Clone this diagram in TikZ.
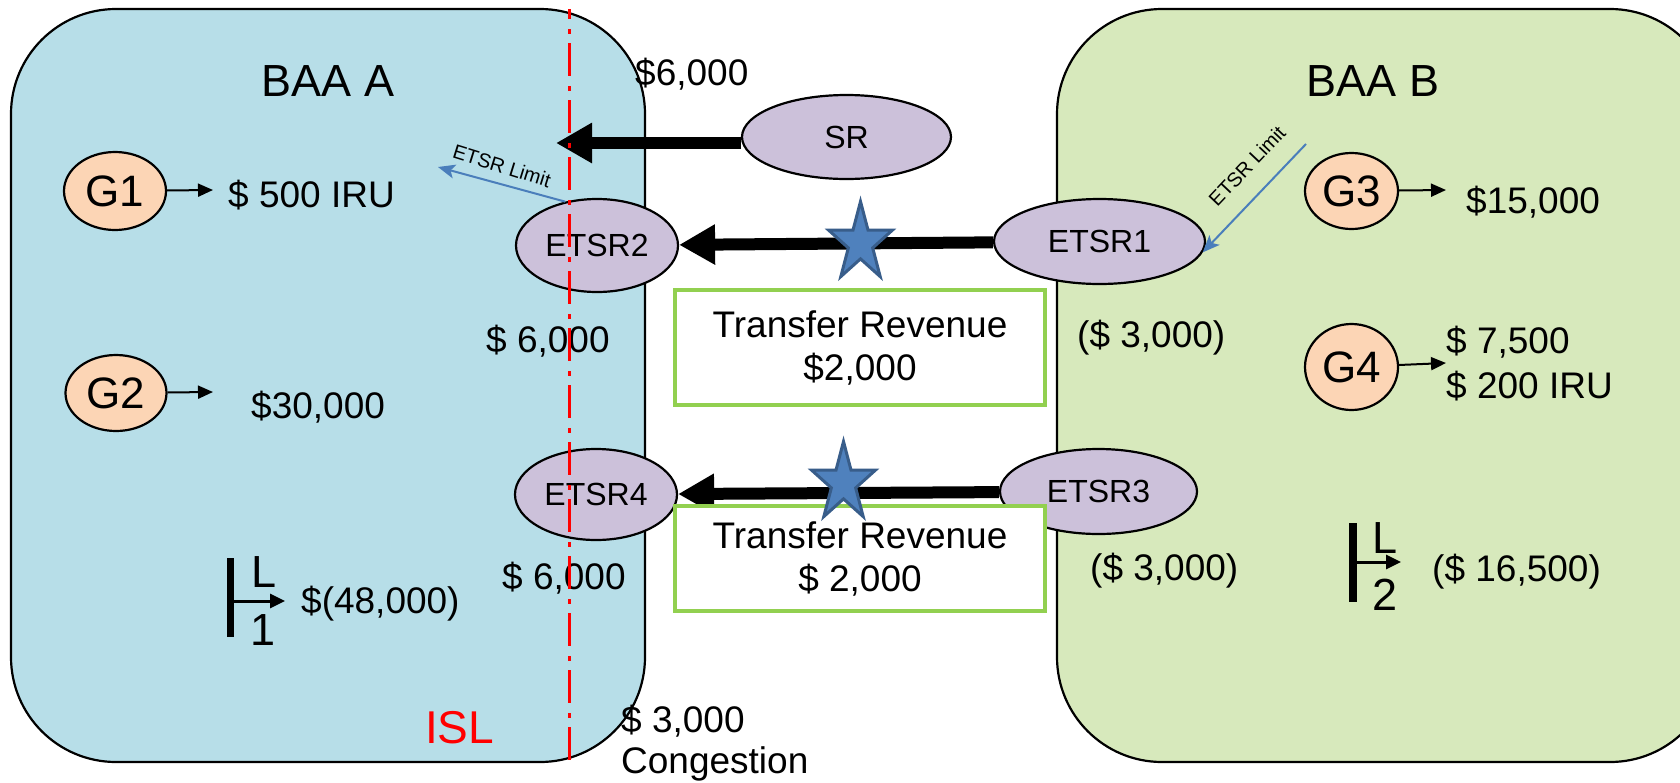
\documentclass[tikz,border=0pt]{standalone}
\usepackage{fontspec}
\setmainfont{Liberation Sans}
\usetikzlibrary{arrows.meta,shapes.geometric}
\definecolor{baaA}{HTML}{B7DEE8}
\definecolor{baaB}{HTML}{D7E9BC}
\definecolor{etsrfill}{HTML}{CCC1DA}
\definecolor{genfill}{HTML}{FCD5B5}
\definecolor{trgreen}{HTML}{92D050}
\definecolor{starfill}{HTML}{4F81BD}
\definecolor{starline}{HTML}{385D8A}
\definecolor{limblue}{HTML}{4A7EBB}
\begin{document}
\begin{tikzpicture}[x=1pt,y=-1pt,
  area/.style={draw=black,line width=2.2pt,rounded corners=105pt},
  etsr/.style={ellipse,draw=black,line width=2.2pt,fill=etsrfill,inner sep=0pt,font=\fontsize{32}{38}\selectfont},
  gen/.style={ellipse,draw=black,line width=2.2pt,fill=genfill,inner sep=0pt,font=\fontsize{44}{52}\selectfont},
  lbl/.style={inner sep=0pt,font=\fontsize{37}{43}\selectfont},
  biglbl/.style={inner sep=0pt,font=\fontsize{45}{54}\selectfont},
  limlbl/.style={inner sep=0pt,font=\fontsize{20}{24}\selectfont},
  bigarrow/.style={draw=black,line width=12pt,-{Triangle[length=36pt,width=38pt]}},
  smallarrow/.style={draw=black,line width=2pt,-{Triangle[length=15pt,width=13pt]}},
  larrow/.style={draw=black,line width=3pt,-{Triangle[length=15pt,width=14pt]}},
  limarrow/.style={draw=limblue,line width=2pt,-{Stealth[length=17pt,width=14pt,inset=4pt]}},
  trbox/.style={rectangle,draw=trgreen,line width=4pt,fill=white,inner sep=0pt,align=center,font=\fontsize{37}{43}\selectfont},
  starsty/.style={fill=starfill,draw=starline,line width=3pt},
  isl/.style={draw=red,line width=3pt,dash pattern=on 33pt off 10pt on 5pt off 9pt,dash phase=23pt}
]
\useasboundingbox (0,0) rectangle (1680,782);
\fill[white] (0,0) rectangle (1680,782);

% areas
\draw[area,fill=baaA] (11,9) rectangle (645,762);
\draw[area,fill=baaB] (1057,9) rectangle (1715,762);

% titles
\node[biglbl,anchor=base] (baaAt) at (328,96) {BAA A};
\node[biglbl,anchor=base] (baaBt) at (1373,96) {BAA B};

% ellipses
\node[etsr,minimum width=209pt,minimum height=84pt] (SR) at (846.5,137) {SR};
\node[etsr,minimum width=211pt,minimum height=85pt] (ETSR1) at (1099.5,241.5) {ETSR1};
\node[etsr,minimum width=162pt,minimum height=93pt] (ETSR2) at (597,245.5) {ETSR2};
\node[etsr,minimum width=197pt,minimum height=85pt] (ETSR3) at (1098.5,491.5) {ETSR3};
\node[etsr,minimum width=162pt,minimum height=91pt] (ETSR4) at (596,494.5) {ETSR4};

\node[gen,minimum width=102pt,minimum height=78pt] (G1) at (115,191) {G1};
\node[gen,minimum width=101pt,minimum height=76pt] (G2) at (116,393) {G2};
\node[gen,minimum width=93pt,minimum height=76pt] (G3) at (1351.5,191) {G3};
\node[gen,minimum width=93pt,minimum height=86pt] (G4) at (1351.5,367) {G4};

% big arrows
\coordinate (srtip) at (556,143);
\draw[bigarrow] ([yshift=-6pt]SR.west) -- (srtip);
\draw[bigarrow] (ETSR1) -- (ETSR2);
\draw[bigarrow] (ETSR3) -- (ETSR4);

% transfer revenue boxes
\node[trbox,minimum width=370pt,minimum height=115pt] (TR1) at (860,347.5) {Transfer Revenue\\\$2,000};
\node[trbox,minimum width=370pt,minimum height=105pt] (TR2) at (860,558.5) {Transfer Revenue\\\$ 2,000};

% stars
\begin{scope}[shift={(860.5,243)},x=33.5pt,y=41.5pt]
\draw[starsty] (90:1) -- (126:0.382) -- (162:1) -- (198:0.382) -- (234:1) -- (270:0.382) -- (306:1) -- (342:0.382) -- (18:1) -- (54:0.382) -- cycle;
\end{scope}
\begin{scope}[shift={(843.5,483)},x=33.5pt,y=41.5pt]
\draw[starsty] (90:1) -- (126:0.382) -- (162:1) -- (198:0.382) -- (234:1) -- (270:0.382) -- (306:1) -- (342:0.382) -- (18:1) -- (54:0.382) -- cycle;
\end{scope}

% generator arrows and values
\coordinate (g1tip) at (213,190);
\coordinate (g2tip) at (213,392);
\coordinate (g3tip) at (1446,190);
\coordinate (g4tip) at (1446,363);
\draw[smallarrow] (G1) -- (g1tip);
\draw[smallarrow] (G2) -- (g2tip);
\draw[smallarrow] (G3) -- (g3tip);
\draw[smallarrow] (G4) -- (g4tip);
\node[lbl,anchor=base west] (tG1) at (228,207) {\$ 500 IRU};
\node[lbl,anchor=base west] (tG2) at (251,418) {\$30,000};
\node[lbl,anchor=base west] (tG3) at (1466,213) {\$15,000};
\node[lbl,anchor=base west] (tG4a) at (1446,353) {\$ 7,500};
\node[lbl,anchor=base west] (tG4b) at (1446,398) {\$ 200 IRU};

% other values
\node[lbl,anchor=base west] (t6000a) at (635,85) {\$6,000};
\node[lbl,anchor=base west] (t6000b) at (486,352) {\$ 6,000};
\node[lbl,anchor=base west] (t6000c) at (502,589) {\$ 6,000};
\node[lbl,anchor=base west] (t3000a) at (1077,347) {(\$ 3,000)};
\node[lbl,anchor=base west] (t3000b) at (1090,580) {(\$ 3,000)};
\node[lbl,anchor=base west] (tcong1) at (621,732) {\$ 3,000};
\node[lbl,anchor=base west] (tcong2) at (621,773) {Congestion};

% load symbols
\draw[line width=7pt] (230.5,558) -- (230.5,637);
\draw[larrow] (233,601) -- (285,601);
\node[biglbl,anchor=base] (L1a) at (264,587) {L};
\node[biglbl,anchor=base] (L1b) at (263,645) {1};
\node[lbl,anchor=base west] (L1v) at (301,613) {\$(48,000)};
\draw[line width=8pt] (1353,523) -- (1353,602);
\draw[larrow] (1356,562) -- (1401,562);
\node[biglbl,anchor=base] (L2a) at (1385,553) {L};
\node[biglbl,anchor=base] (L2b) at (1385,610) {2};
\node[lbl,anchor=base west] (L2v) at (1432,581) {(\$ 16,500)};

% ETSR limit arrows
\coordinate (lim2end) at (438,167);
\draw[limarrow] (ETSR2.126) -- (lim2end);
\node[limlbl,rotate=-17.3] (lim2lbl) at (502,166) {ETSR Limit};
\coordinate (lim1start) at (1306,144);
\draw[limarrow] (lim1start) -- (ETSR1.-6);
\node[limlbl,rotate=46.6] (lim1lbl) at (1247,166) {ETSR Limit};

% ISL line
\coordinate (islTop) at (569,9);
\coordinate (islBot) at (569,766);
\draw[isl] (islTop) -- (islBot);
\node[inner sep=0pt,font=\fontsize{46}{55}\selectfont,text=red,anchor=base west] (ISL) at (425,743) {ISL};
\end{tikzpicture}
\end{document}
